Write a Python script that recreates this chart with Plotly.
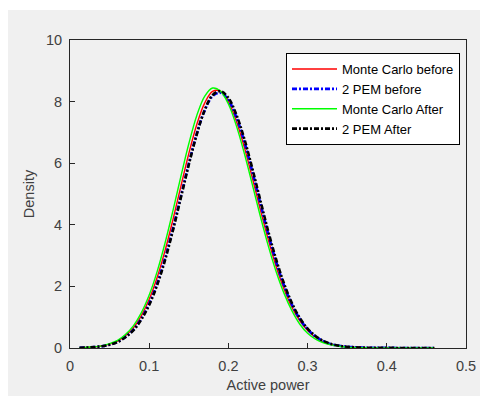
import plotly.graph_objects as go

x_vals = [0.012, 0.02, 0.03, 0.04, 0.05, 0.06, 0.07, 0.08, 0.09, 0.10, 0.11, 0.12, 0.13, 0.14,
          0.15, 0.16, 0.17, 0.18, 0.19, 0.20, 0.21, 0.22, 0.23, 0.24, 0.25, 0.26, 0.27, 0.28,
          0.29, 0.30, 0.31, 0.32, 0.33, 0.34, 0.35, 0.37, 0.40, 0.43, 0.46]

mc_before = [0.009, 0.016, 0.033, 0.064, 0.125, 0.225, 0.40, 0.655, 1.045, 1.58, 2.29, 3.16, 4.17, 5.25,
             6.31, 7.25, 7.95, 8.33, 8.34, 8.0, 7.37, 6.53, 5.55, 4.53, 3.55, 2.67, 1.93, 1.33,
             0.89, 0.57, 0.35, 0.2, 0.115, 0.065, 0.035, 0.011, 0.0035, 0.001, 0.0]

pem_before = [0.008, 0.014, 0.03, 0.058, 0.11, 0.20, 0.36, 0.59, 0.95, 1.44, 2.09, 2.91, 3.88, 4.93,
              5.99, 6.95, 7.71, 8.18, 8.29, 8.05, 7.50, 6.71, 5.75, 4.73, 3.73, 2.82, 2.05, 1.42,
              0.95, 0.61, 0.37, 0.22, 0.12, 0.07, 0.04, 0.012, 0.004, 0.001, 0.0]

mc_after = [0.01, 0.02, 0.04, 0.07, 0.14, 0.25, 0.44, 0.72, 1.14, 1.72, 2.48, 3.41, 4.46, 5.57,
            6.63, 7.54, 8.17, 8.44, 8.34, 7.92, 7.22, 6.33, 5.33, 4.31, 3.35, 2.50, 1.79, 1.22,
            0.78, 0.48, 0.29, 0.17, 0.10, 0.055, 0.03, 0.01, 0.003, 0.001, 0.0]

pem_after = [0.008, 0.014, 0.029, 0.056, 0.105, 0.19, 0.35, 0.57, 0.92, 1.40, 2.04, 2.85, 3.82, 4.88,
             5.95, 6.93, 7.72, 8.21, 8.34, 8.12, 7.58, 6.80, 5.85, 4.83, 3.82, 2.90, 2.11, 1.47,
             0.98, 0.63, 0.39, 0.23, 0.13, 0.075, 0.042, 0.013, 0.004, 0.001, 0.0]

x_ticks = [0, 0.1, 0.2, 0.3, 0.4, 0.5]
x_tick_labels = ["0", "0.1", "0.2", "0.3", "0.4", "0.5"]
y_ticks = [0, 2, 4, 6, 8, 10]
y_tick_labels = ["0", "2", "4", "6", "8", "10"]

FONT = "Liberation Sans, Arial, sans-serif"
AX = "#262626"
TXT = "#404040"
dashdot = "5px,2px,2px,2px"

fig = go.Figure()
fig.add_trace(go.Scatter(x=x_vals, y=mc_before, mode="lines", name="Monte Carlo before",
                         line=dict(color="#ff0000", width=1.4, shape="spline")))
fig.add_trace(go.Scatter(x=x_vals, y=pem_before, mode="lines", name="2 PEM before",
                         line=dict(color="#0000ff", width=2.6, dash=dashdot, shape="spline")))
fig.add_trace(go.Scatter(x=x_vals, y=mc_after, mode="lines", name="Monte Carlo After",
                         line=dict(color="#00ff00", width=1.4, shape="spline")))
fig.add_trace(go.Scatter(x=x_vals, y=pem_after, mode="lines", name="2 PEM After",
                         line=dict(color="#000000", width=2.6, dash=dashdot, shape="spline")))

# page is offset by the 8px body margin; figure sized to fit the window
W, H = 480, 388
L, R, T, B = 62, 22, 32, 48
pw, ph = W - L - R, H - T - B

fig.add_shape(type="rect", xref="paper", yref="paper", layer="below",
              x0=-L / pw - 0.05, x1=1 + R / pw + 0.05,
              y0=-B / ph - 0.05, y1=(ph + T - 2) / ph,
              fillcolor="#f0f0f0", line=dict(width=0))

fig.update_layout(
    width=W, height=H,
    margin=dict(l=L, r=R, t=T, b=B, autoexpand=False),
    paper_bgcolor="white",
    plot_bgcolor="white",
    font=dict(family=FONT, size=14, color=TXT),
    showlegend=True,
    legend=dict(x=(452 - L) / pw, xanchor="right", y=(ph - 13) / ph, yanchor="top",
                bgcolor="white", bordercolor="#000000", borderwidth=1,
                font=dict(family=FONT, size=13, color="#000000"),
                itemwidth=45, tracegroupgap=0),
    xaxis=dict(range=[0, 0.5], tickvals=x_ticks, ticktext=x_tick_labels,
               showgrid=False, zeroline=False, showline=True, linecolor=AX, linewidth=1,
               mirror=True, ticks="inside", ticklen=5, tickcolor=AX, ticklabelstandoff=5,
               automargin=False,
               tickfont=dict(size=14.5, color=TXT),
               title=dict(text="Active power", font=dict(size=14.5, color=TXT), standoff=6)),
    yaxis=dict(range=[0, 10], tickvals=y_ticks, ticktext=y_tick_labels,
               showgrid=False, zeroline=False, showline=True, linecolor=AX, linewidth=1,
               mirror=True, ticks="inside", ticklen=5, tickcolor=AX, ticklabelstandoff=4,
               automargin=False,
               tickfont=dict(size=14.5, color=TXT),
               title=dict(text="Density", font=dict(size=14.5, color=TXT), standoff=7)),
)

fig.write_html("out.html")
